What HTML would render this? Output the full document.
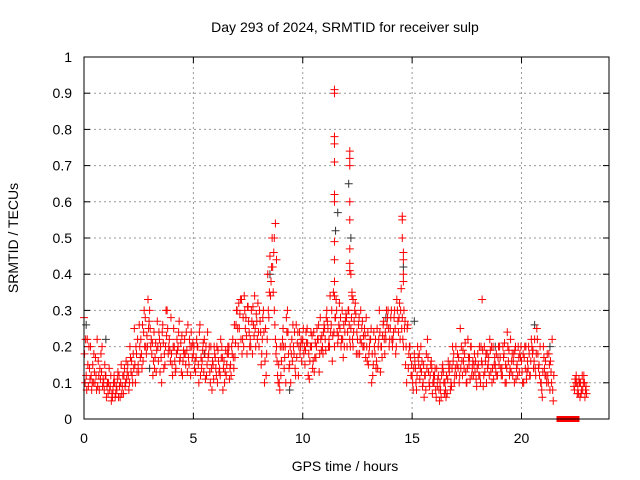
<!DOCTYPE html>
<html><head><meta charset="utf-8"><style>
body{margin:0;background:#fff;}
svg{display:block;font-family:"Liberation Sans",sans-serif;}
</style></head><body>
<svg id="chart" width="640" height="480" xmlns="http://www.w3.org/2000/svg">
<rect width="640" height="480" fill="#fff"/>
<text x="345" y="32" font-size="14" text-anchor="middle">Day 293 of 2024, SRMTID for receiver sulp</text>
<text x="345" y="471" font-size="14" text-anchor="middle">GPS time / hours</text>
<text transform="translate(18,238) rotate(-90)" font-size="14" text-anchor="middle">SRMTID / TECUs</text>
<g id="grid"></g><g id="ticks"></g><g id="marks"></g>
<rect x="84" y="57" width="525" height="362" fill="none" stroke="#000" stroke-width="1"/>
</svg>
<script>
const xTicks=[0,5,10,15,20];
const yTicks=[0,0.1,0.2,0.3,0.4,0.5,0.6,0.7,0.8,0.9,1];
const yLabels=["0","0.1","0.2","0.3","0.4","0.5","0.6","0.7","0.8","0.9","1"];
// samples every 0.1 h from 0.0 h, four per slot
const seriesA=[
0.28,0.12,0.09,0.2,0.15,0.1,0.22,0.08,0.13,0.1,
0.12,0.07,0.09,0.06,0.1,0.08,0.12,0.15,0.07,0.1,
0.15,0.2,0.12,0.25,0.18,0.13,0.22,0.16,0.28,0.2,
0.3,0.18,0.24,0.13,0.16,0.2,0.26,0.15,0.3,0.22,
0.18,0.25,0.14,0.2,0.17,0.12,0.22,0.19,0.15,0.24,
0.18,0.13,0.2,0.26,0.16,0.22,0.12,0.18,0.2,0.15,
0.17,0.1,0.14,0.2,0.16,0.12,0.18,0.15,0.22,0.17,
0.3,0.25,0.33,0.2,0.28,0.31,0.22,0.18,0.34,0.27,
0.2,0.15,0.3,0.25,0.4,0.45,0.5,0.3,0.2,0.15,
0.12,0.25,0.2,0.3,0.15,0.22,0.18,0.26,0.12,0.2,
0.22,0.15,0.25,0.11,0.2,0.24,0.17,0.22,0.28,0.2,
0.25,0.3,0.22,0.26,0.35,0.28,0.21,0.25,0.3,0.2,
0.28,0.3,0.25,0.2,0.32,0.22,0.18,0.25,0.2,0.28,
0.15,0.22,0.12,0.18,0.25,0.3,0.2,0.27,0.22,0.3,
0.25,0.2,0.3,0.33,0.28,0.36,0.2,0.15,0.26,0.2,
0.12,0.18,0.08,0.15,0.2,0.1,0.12,0.22,0.09,0.14,
0.1,0.06,0.12,0.08,0.15,0.1,0.07,0.13,0.09,0.18,
0.2,0.14,0.25,0.12,0.18,0.1,0.15,0.2,0.12,0.16,
0.18,0.12,0.15,0.2,0.1,0.17,0.13,0.2,0.15,0.12,
0.2,0.14,0.18,0.1,0.16,0.22,0.12,0.19,0.15,0.13,
0.16,0.1,0.2,0.14,0.12,0.18,0.22,0.25,0.15,0.1,
0.2,0.16,0.12,0.08,0.22,null,null,null,null,null,
null,null,null,null,0.09,0.12,0.07,0.1,0.08,0.06];
const seriesB=[
0.1,0.22,0.14,0.08,0.18,0.12,0.16,0.11,0.09,0.15,
0.09,0.14,0.05,0.1,0.07,0.13,0.06,0.09,0.14,0.11,
0.08,0.13,0.18,0.1,0.22,0.2,0.14,0.3,0.18,0.25,
0.2,0.12,0.17,0.27,0.22,0.1,0.14,0.3,0.18,0.16,
0.12,0.16,0.22,0.27,0.13,0.19,0.15,0.26,0.2,0.17,
0.14,0.22,0.1,0.17,0.21,0.11,0.24,0.13,0.08,0.2,
0.12,0.16,0.22,0.08,0.13,0.18,0.11,0.2,0.14,0.26,
0.2,0.33,0.22,0.3,0.18,0.24,0.3,0.26,0.2,0.32,
0.27,0.22,0.1,0.18,0.28,0.38,0.35,0.22,0.12,0.08,
0.2,0.14,0.28,0.18,0.1,0.26,0.14,0.21,0.24,0.16,
0.18,0.24,0.12,0.2,0.14,0.17,0.25,0.13,0.19,0.24,
0.19,0.25,0.34,0.16,0.2,0.3,0.26,0.2,0.17,0.27,
0.24,0.22,0.34,0.27,0.18,0.26,0.3,0.2,0.23,0.16,
0.2,0.1,0.24,0.14,0.2,0.13,0.23,0.18,0.26,0.2,
0.3,0.24,0.18,0.27,0.22,0.28,0.25,0.1,0.18,0.12,
0.08,0.14,0.2,0.11,0.16,0.06,0.18,0.13,0.15,0.1,
0.14,0.09,0.05,0.12,0.1,0.06,0.16,0.08,0.2,0.12,
0.15,0.1,0.2,0.16,0.13,0.22,0.11,0.14,0.18,0.09,
0.12,0.2,0.09,0.16,0.14,0.22,0.1,0.15,0.18,0.2,
0.14,0.2,0.1,0.24,0.12,0.16,0.18,0.11,0.2,0.17,
0.1,0.2,0.13,0.18,0.22,0.14,0.12,0.18,0.2,0.06,
0.14,0.1,0.18,0.13,0.05,null,null,null,null,null,
null,null,null,null,0.11,0.07,0.1,0.08,0.12,0.09];
const seriesC=[
0.18,0.08,0.2,0.12,0.1,0.17,0.09,0.14,0.2,0.08,
0.06,0.1,0.12,0.08,0.06,0.11,0.09,0.07,0.12,0.16,
0.12,0.17,0.1,0.15,0.13,0.26,0.18,0.24,0.2,0.33,
0.25,0.21,0.14,0.19,0.24,0.17,0.21,0.2,0.25,0.19,
0.15,0.2,0.18,0.24,0.21,0.16,0.18,0.13,0.22,0.2,
0.2,0.17,0.15,0.12,0.19,0.18,0.15,0.2,0.14,0.11,
0.14,0.19,0.12,0.17,0.1,0.15,0.2,0.12,0.17,0.21,
0.25,0.29,0.18,0.34,0.23,0.27,0.2,0.31,0.25,0.22,
0.3,0.18,0.24,0.12,0.3,0.34,0.42,0.26,0.16,0.1,
0.16,0.2,0.1,0.24,0.2,0.16,0.24,0.17,0.2,0.22,
0.25,0.19,0.21,0.16,0.23,0.13,0.2,0.26,0.22,0.18,
0.22,0.27,0.2,0.3,0.24,0.33,0.23,0.28,0.22,0.24,
0.2,0.26,0.28,0.24,0.29,0.18,0.22,0.27,0.25,0.2,
0.18,0.25,0.15,0.22,0.14,0.24,0.17,0.22,0.3,0.25,
0.28,0.22,0.25,0.3,0.32,0.25,0.3,0.2,0.14,0.17,
0.1,0.16,0.12,0.18,0.13,0.15,0.08,0.17,0.12,0.07,
0.12,0.14,0.08,0.06,0.13,0.08,0.11,0.15,0.14,0.1,
0.12,0.17,0.14,0.19,0.21,0.14,0.17,0.12,0.15,0.11,
0.15,0.1,0.19,0.13,0.18,0.12,0.2,0.11,0.13,0.17,
0.17,0.12,0.21,0.14,0.19,0.13,0.16,0.2,0.12,0.18,
0.13,0.17,0.11,0.2,0.16,0.19,0.14,0.22,0.12,0.08,
0.17,0.12,0.1,0.16,0.08,null,null,null,null,null,
null,null,null,null,0.08,0.1,0.11,0.07,0.1,0.08];
const seriesD=[
0.22,0.15,0.11,0.1,0.13,0.08,0.12,0.18,0.11,0.12,
0.1,0.08,0.07,0.12,0.09,0.06,0.1,0.12,0.09,0.13,
0.1,0.16,0.14,0.2,0.15,0.17,0.26,0.2,0.23,0.27,
0.22,0.16,0.21,0.2,0.13,0.24,0.18,0.23,0.2,0.28,
0.2,0.13,0.19,0.16,0.23,0.18,0.24,0.17,0.12,0.21,
0.16,0.2,0.24,0.14,0.13,0.2,0.17,0.1,0.16,0.18,
0.2,0.13,0.17,0.14,0.19,0.2,0.14,0.18,0.26,0.3,
0.32,0.22,0.28,0.25,0.31,0.2,0.27,0.23,0.29,0.24,
0.24,0.28,0.16,0.22,0.35,0.42,0.46,0.18,0.1,0.2,
0.22,0.17,0.24,0.14,0.18,0.2,0.12,0.24,0.18,0.21,
0.2,0.21,0.18,0.24,0.16,0.21,0.22,0.18,0.23,0.26,
0.28,0.2,0.24,0.23,0.28,0.24,0.32,0.22,0.26,0.29,
0.3,0.2,0.22,0.3,0.24,0.28,0.21,0.23,0.17,0.24,
0.22,0.18,0.2,0.16,0.22,0.2,0.26,0.24,0.28,0.22,
0.22,0.28,0.2,0.24,0.3,0.22,0.27,0.25,0.2,0.15,
0.14,0.1,0.17,0.14,0.09,0.12,0.14,0.1,0.16,0.12,
0.08,0.11,0.1,0.14,0.07,0.12,0.14,0.1,0.16,0.14,
0.18,0.12,0.16,0.14,0.1,0.17,0.2,0.16,0.13,0.14,
0.2,0.16,0.12,0.18,0.15,0.19,0.14,0.17,0.12,0.15,
0.12,0.17,0.15,0.2,0.14,0.18,0.1,0.14,0.17,0.2,
0.18,0.14,0.16,0.12,0.2,0.16,0.18,0.14,0.1,0.13,
0.12,0.18,0.15,0.1,0.12,null,null,null,null,null,
null,null,null,null,0.1,0.09,0.06,0.12,0.1,0.07];
const spikeTimes=[11.45,11.45,11.45,11.45,11.45,11.45,11.45,11.45,11.45,11.45,11.45,12.15,12.15,12.15,12.15,12.15,12.15,12.15,12.15,12.2,12.25,12.3,14.55,14.55,14.55,14.6,14.6,14.6,14.6,8.75,8.7,8.8,18.2];
const spikeValues=[0.91,0.9,0.78,0.76,0.71,0.62,0.6,0.49,0.44,0.38,0.34,0.74,0.72,0.7,0.6,0.55,0.47,0.43,0.41,0.4,0.35,0.33,0.56,0.55,0.5,0.46,0.44,0.4,0.38,0.54,0.5,0.44,0.33];
const blackTimes=[0.1,1.0,3.0,5.5,8.5,9.4,11.5,11.6,12.1,12.2,13.8,14.6,15.1,18.8,20.6,21.3];
const blackValues=[0.26,0.22,0.14,0.18,0.4,0.08,0.52,0.57,0.65,0.5,0.28,0.42,0.27,0.2,0.26,0.2];
const gapStart=21.6, gapEnd=22.65;

const X0=84,X1=609,Y0=419,Y1=57;
const xs=v=>X0+(v/24)*(X1-X0);
const ys=v=>Y0-(v/1)*(Y0-Y1);
const NS="http://www.w3.org/2000/svg";
const mk=(t,a)=>{const e=document.createElementNS(NS,t);for(const k in a)e.setAttribute(k,a[k]);return e;};
const grid=document.getElementById('grid'),ticks=document.getElementById('ticks'),marks=document.getElementById('marks');
yTicks.forEach((v,i)=>{
  const y=ys(v);
  if(i>0&&i<yTicks.length-1){const g=mk('line',{x1:X0,x2:X1,y1:y,y2:y,stroke:'#999','stroke-dasharray':'2,3'});
  
  grid.appendChild(g);}
  const t=mk('line',{x1:X0,x2:X0+6,y1:y,y2:y,stroke:'#000'});
  
  ticks.appendChild(t);
  const t2=mk('line',{x1:X1-6,x2:X1,y1:y,y2:y,stroke:'#000'});
  
  ticks.appendChild(t2);
  const l=mk('text',{x:X0-12,y:y+5,'font-size':14,'text-anchor':'end'});l.textContent=yLabels[i];
  
  ticks.appendChild(l);
});
xTicks.forEach(v=>{
  const x=xs(v);
  if(v>0){const g=mk('line',{x1:x,x2:x,y1:Y0,y2:Y1,stroke:'#999','stroke-dasharray':'2,3'});
  
  grid.appendChild(g);}
  const t=mk('line',{x1:x,x2:x,y1:Y0,y2:Y0-6,stroke:'#000'});
  
  ticks.appendChild(t);
  const t2=mk('line',{x1:x,x2:x,y1:Y1,y2:Y1+6,stroke:'#000'});
  
  ticks.appendChild(t2);
  const l=mk('text',{x:x,y:Y0+24,'font-size':14,'text-anchor':'middle'});l.textContent=String(v);
  
  ticks.appendChild(l);
});
function cross(t,v,color,name){
  if(v===null)return;
  const x=xs(t),y=ys(v);
  const p=mk('path',{d:`M${x-4},${y}h8M${x},${y-4}v8`,stroke:color,'stroke-width':1,fill:'none'});
  
  
  marks.appendChild(p);
}
blackTimes.forEach((t,i)=>cross(t,blackValues[i],'#333','point-black'));
seriesA.forEach((v,i)=>cross(i*0.1,v,'#f00','point-red'));
seriesB.forEach((v,i)=>cross(i*0.1+0.05,v,'#f00','point-red'));
seriesC.forEach((v,i)=>cross(i*0.1+0.025,v,'#f00','point-red'));
seriesD.forEach((v,i)=>cross(i*0.1+0.075,v,'#f00','point-red'));
spikeTimes.forEach((t,i)=>cross(t,spikeValues[i],'#f00','point-red-spike'));
const gap=mk('rect',{x:xs(gapStart),y:Y0-3,width:xs(gapEnd)-xs(gapStart),height:6,fill:'#f00'});


marks.appendChild(gap);
</script>
</body></html>
